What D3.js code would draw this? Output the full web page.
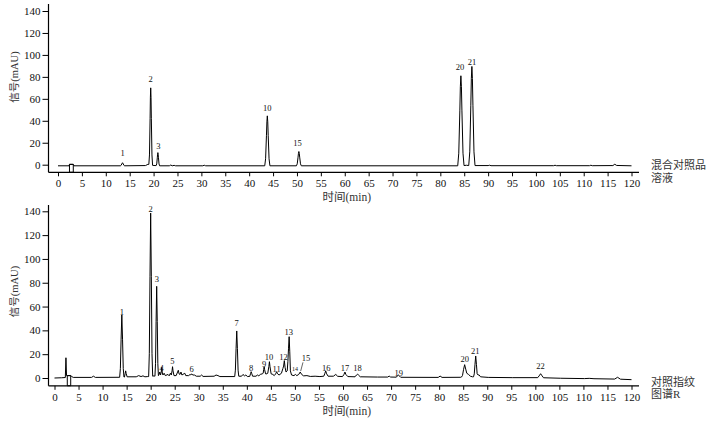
<!DOCTYPE html>
<html><head><meta charset="utf-8">
<script src="https://cdn.jsdelivr.net/npm/d3@7/dist/d3.min.js"></script>
<style>body{margin:0;background:#fff}svg{display:block}</style>
</head><body>
<svg id="chart" width="710" height="421"></svg>
<script>
// ---------- data ----------
const xTicks = [0,5,10,15,20,25,30,35,40,45,50,55,60,65,70,75,80,85,90,95,100,105,110,115,120];
const yTicks = [0,20,40,60,80,100,120,140];
const yTitle = "信号(mAU)";
const xTitle = "时间(min)";
const topSampleName = ["混合对照品","溶液"];
const bottomSampleName = ["对照指纹","图谱R"];

// [time (min), signal (mAU)]
const topSignal = [
 [0,-1],[2.3,-1],[2.4,0.3],[3.2,0.3],[3.2,-6.9],[2.4,-6.9],[2.4,0.3],[3.2,0.3],[3.35,-1],
 [13.05,-1],[13.2,-0.6],[13.35,0.7],[13.5,1.8],[13.65,0.7],[13.8,-0.6],[13.95,-1],
 [18.3,-0.8],[18.8,0.3],[19.01,0.3],[19.14,8.9],[19.27,42.3],[19.335,61.5],[19.4,70],[19.465,61.5],[19.53,42.3],[19.66,8.9],[19.79,-0.6],[20.3,-0.8],
 [20.54,-0.8],[20.66,0.7],[20.78,6.3],[20.84,9.6],[20.9,11],[20.96,9.6],[21.02,6.3],[21.14,0.7],[21.26,-1],
 [23.3,-1],[23.6,-0.3],[23.9,-1],[24.3,-0.6],[24.6,-1],[30.3,-1],[30.6,-0.5],[30.9,-1],
 [43.26,-1],[43.44,5.4],[43.62,26.8],[43.71,39],[43.8,44.5],[43.89,39],[43.98,26.8],[44.16,5.4],[44.34,-1],
 [49.89,-1],[50.06,0.8],[50.23,6.9],[50.315,10.4],[50.4,12],[50.485,10.4],[50.57,6.9],[50.74,0.8],[50.91,-1],
 [83.64,-1],[83.86,10.5],[84.08,49],[84.19,71],[84.3,81],[84.41,71],[84.52,49],[84.74,10.5],[84.96,-0.8],[85.45,-0.5],
 [85.94,-0.8],[86.16,11.7],[86.38,54.2],[86.49,78.6],[86.6,89.5],[86.71,78.6],[86.82,54.2],[87.04,11.7],[87.26,-0.8],
 [90,-0.8],[90.3,-0.5],[90.6,-0.9],[103.7,-0.9],[104,-0.5],[104.3,-0.9],[111.2,-0.9],[111.5,-0.5],[111.8,-0.9],
 [116.1,-0.8],[116.5,0.4],[116.9,-0.7],[120,-1]
];

// [time (min), signal (mAU)]
const bottomSignal = [
 [0,0],[1.5,0.2],[2.25,0.4],[2.38,17],[2.5,2],[2.66,2],[2.66,-6.5],[3.37,-6.5],[3.37,2],[2.66,2],[3.37,2],[3.6,1.2],[3.9,0.5],
 [7.7,0.5],[8.1,1.5],[8.5,0.5],[13.55,0.6],
 [13.7,7.9],[13.85,32.6],[14.0,53],[14.15,32.6],[14.3,7.9],[14.45,0.8],
 [14.55,0.8],[14.7,3.8],[14.8,6],[14.9,3.8],[15.1,1],
 [17.0,1],[17.5,2],[18.0,1.2],[18.4,1.8],[18.8,1],[19.4,1.2],
 [19.58,1.2],[19.72,20.4],[19.86,85],[20.0,138.5],[20.14,85],[20.28,20.4],[20.42,1.5],
 [20.7,1.8],
 [20.89,1.5],[21.01,12],[21.13,47.6],[21.25,77],[21.37,47.6],[21.49,12],[21.61,2],
 [21.75,3],[21.9,5],[22.05,2.5],[22.2,5],[22.3,9],[22.4,5],[22.55,2.5],[22.8,4],[23.05,2],[23.6,3],[23.85,1.8],
 [24.1,4],[24.3,2.5],[24.45,6],[24.55,9.5],[24.65,6],[24.85,2],[25.3,2],[25.6,5],[25.75,6.5],[25.9,3.5],[26.1,3],
 [26.3,5],[26.5,2.5],[27.1,4],[27.3,2],[27.9,2],[28.2,3],[28.35,2.5],[28.5,3.4],[28.8,2.5],[29.1,2.5],[29.5,1.5],
 [30.3,1.5],[30.6,2.5],[30.9,1.3],[33.2,1.5],[33.6,2.5],[34.0,2],[34.4,1.2],
 [37.48,1.2],[37.62,6.6],[37.76,24.6],[37.9,39.5],[38.04,24.6],[38.18,6.6],[38.32,1.5],
 [38.9,1.5],[39.2,3],[39.5,1.8],[39.8,2.5],[40.1,1.3],[40.6,1.3],[40.8,4],[40.9,5.3],[41.0,4],[41.2,1.5],
 [41.9,1.5],[42.2,2.5],[42.5,1.8],[42.8,3],[43.2,3.5],[43.4,4],[43.5,7],[43.6,9.5],[43.7,7],[43.9,3.5],[44.2,3.5],
 [44.35,4],[44.58,9.5],[44.7,13.7],[44.82,9.5],[45.05,3.5],
 [45.4,3],[45.7,2],[46.0,3.5],[46.2,5.3],[46.4,3.5],[46.7,2.5],[47.2,4],[47.5,8],[47.65,10],[47.8,14.6],[47.95,9],[48.15,5],[48.4,6],
 [48.54,14],[48.67,25],[48.8,34.7],[48.93,22],[49.06,6],[49.3,2.5],
 [49.8,2],[50.1,3],[50.4,2],[50.8,3],[51.1,5],[51.4,3],[51.8,1.8],[52.5,2],[53.2,1.3],[54.2,1.5],[55.2,1.2],
 [56.0,1.5],[56.2,3.5],[56.4,6],[56.6,3.5],[56.9,1.5],[58.0,1.5],[58.5,3],[58.9,1.4],[59.9,1.2],[60.2,3],[60.4,5],[60.6,3],[61.0,1.2],
 [62.5,1],[62.8,2.5],[63.0,3.3],[63.2,2.5],[63.6,1],[67.2,0.8],[69.3,0.8],[69.6,1.6],[69.9,0.8],
 [71.1,0.7],[71.3,1.8],[71.5,2.5],[71.7,1.8],[72.0,0.6],[79.8,0.5],[80.2,1.6],[80.6,0.5],[84.5,0.6],
 [84.64,0.8],[84.86,2.2],[85.08,7.3],[85.3,11.2],[85.52,7.5],[85.74,4],[86.1,3],[86.5,1.5],[86.9,1],
 [87.15,1],[87.3,3.5],[87.45,11.5],[87.6,18.5],[87.75,11.5],[87.9,3.5],[88.1,2.5],[88.3,2.6],[88.6,1],[90.2,0.5],[95.2,0.3],
 [100.5,0.3],[100.9,2.4],[101.1,3.6],[101.3,2.4],[101.7,0.2],[105.2,-0.2],[110.2,-0.5],[111.2,-0.3],[112.2,-0.6],
 [116.5,-0.9],[117.1,0.6],[117.7,-1],[120,-1.4]
];

// peak number, label time (min), label height (mAU)
const topPeakLabels = [
 {n:"1",t:13.5,v:10.4},{n:"2",t:19.4,v:78},{n:"3",t:21.0,v:17},{n:"10",t:43.8,v:51.6},
 {n:"15",t:50.1,v:20},{n:"20",t:84.1,v:89},{n:"21",t:86.6,v:93.5}
];
const bottomPeakLabels = [
 {n:"1",t:14.0,v:55.7},{n:"2",t:20.0,v:141.8},{n:"3",t:21.3,v:83},{n:"4",t:22.3,v:8.4},
 {n:"5",t:24.5,v:14.3},{n:"6",t:28.5,v:7.6},{n:"7",t:37.9,v:46},{n:"8",t:40.9,v:8.2},
 {n:"9",t:43.6,v:11.5},{n:"10",t:44.6,v:17.9},{n:"11",t:46.2,v:7.6},{n:"12",t:47.6,v:17.9},
 {n:"13",t:48.7,v:38.9},{n:"14",t:50.0,v:7.3,small:true},{n:"15",t:52.3,v:16.5,lt:51.2,lv:5.8},
 {n:"16",t:56.5,v:8.2},{n:"17",t:60.4,v:8.7},{n:"18",t:63.0,v:8.2},{n:"19",t:71.6,v:3.9},
 {n:"20",t:85.3,v:15.7},{n:"21",t:87.5,v:23},{n:"22",t:101.1,v:10.3}
];

// ---------- layout ----------
const panels = [
 {signal: topSignal, labels: topPeakLabels, name: topSampleName,
  xr:[58,631.5], yr:[164.7,11], axisY:172.3, axisX:48.5, yTop:4, xEnd:639,
  xTitleY:197, yTitleY:77, nameY:[165,177.5]},
 {signal: bottomSignal, labels: bottomPeakLabels, name: bottomSampleName,
  xr:[54.5,631.5], yr:[378,211.3], axisY:385.8, axisX:48.5, yTop:205, xEnd:639,
  xTitleY:410.5, yTitleY:291.5, nameY:[381.7,394]}
];

const svg = d3.select("#chart");
const serif = "'Liberation Serif','Times New Roman','Noto Sans CJK SC',serif";
const cjk = "'Liberation Serif','Noto Sans CJK SC',serif";

panels.forEach(p => {
  const x = d3.scaleLinear().domain([0,120]).range(p.xr);
  const y = d3.scaleLinear().domain([0,140]).range(p.yr);
  const g = svg.append("g");

  // axes
  const ya = g.append("g").attr("transform",`translate(${p.axisX},0)`)
    .call(d3.axisLeft(y).tickValues(yTicks).tickSize(6).tickPadding(2));
  ya.select(".domain").remove();
  const xa = g.append("g").attr("transform",`translate(0,${p.axisY})`)
    .call(d3.axisBottom(x).tickValues(xTicks).tickSize(4).tickPadding(3));
  xa.select(".domain").remove();
  [ya, xa].forEach(a => {
    a.selectAll("text").attr("font-family", serif).attr("font-size", 11).attr("fill","#111");
    a.selectAll("line").attr("stroke","#000");
  });
  g.append("line").attr("x1",p.axisX).attr("x2",p.axisX).attr("y1",p.yTop).attr("y2",p.axisY)
    .attr("stroke","#000").attr("stroke-width",1.2);
  g.append("line").attr("x1",p.axisX).attr("x2",p.xEnd).attr("y1",p.axisY).attr("y2",p.axisY)
    .attr("stroke","#000").attr("stroke-width",1.2);

  // trace
  const line = d3.line().x(d => x(d[0])).y(d => y(d[1])).curve(d3.curveLinear);
  g.append("path").datum(p.signal).attr("d", line)
    .attr("fill","none").attr("stroke","#000").attr("stroke-width",1).attr("stroke-linejoin","round");

  // peak labels
  g.selectAll("text.pk").data(p.labels).enter().append("text").attr("class","pk")
    .attr("x", d => x(d.t)).attr("y", d => y(d.v))
    .attr("text-anchor","middle").attr("dominant-baseline","central")
    .attr("font-family", serif).attr("font-size", d => d.small ? 6 : 8.5).attr("fill","#111")
    .text(d => d.n);
  g.selectAll("line.leader").data(p.labels.filter(d => d.lt !== undefined)).enter()
    .append("line").attr("class","leader")
    .attr("x1", d => x(d.t) - 3).attr("y1", d => y(d.v) + 4)
    .attr("x2", d => x(d.lt)).attr("y2", d => y(d.lv))
    .attr("stroke","#222").attr("stroke-width",0.7);

  // titles
  g.append("text").attr("transform",`translate(14,${p.yTitleY}) rotate(-90)`)
    .attr("text-anchor","middle").attr("dominant-baseline","central")
    .attr("font-family", cjk).attr("font-size",10.5).attr("fill","#333").text(yTitle);
  g.append("text").attr("x",(p.axisX + p.xEnd)/2 + 3).attr("y",p.xTitleY)
    .attr("text-anchor","middle").attr("dominant-baseline","central")
    .attr("font-family", cjk).attr("font-size",11.5).attr("fill","#333").text(xTitle);
  g.selectAll("text.nm").data(p.name).enter().append("text").attr("class","nm")
    .attr("x",651).attr("y",(d,i) => p.nameY[i])
    .attr("dominant-baseline","central")
    .attr("font-family", cjk).attr("font-size",11).attr("fill","#333").text(d => d);
});
</script>
</body></html>
